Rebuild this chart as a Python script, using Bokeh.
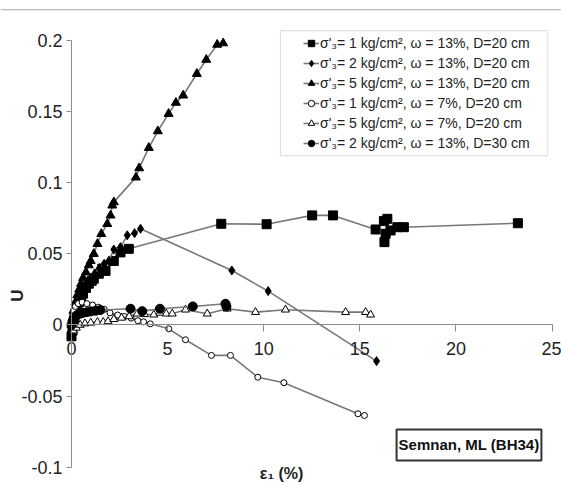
import math
from bokeh.plotting import figure
from bokeh.models import (Range1d, FixedTicker, Legend, LegendItem, Label, BoxAnnotation,
                          CustomJSTickFormatter, Span)
from bokeh.embed import file_html
from bokeh.resources import INLINE

# Axial strain eps1 (%) and U for each triaxial test
sq_x = [0.0, 0.05, 0.1, 0.15, 0.2, 0.3, 0.4, 0.5, 0.6, 0.75, 0.9, 1.05, 1.16, 1.42, 1.6, 1.77,
        2.2, 2.55, 2.98, 7.79, 10.15, 12.52, 13.6, 15.82, 16.25, 16.43, 16.34, 16.28, 16.6,
        16.95, 17.29, 23.22]
sq_y = [-0.008, -0.004, 0.0, 0.004, 0.008, 0.012, 0.016, 0.019, 0.022, 0.026, 0.029, 0.031,
        0.0325, 0.036, 0.0395, 0.038, 0.045, 0.051, 0.0535, 0.0711, 0.0708, 0.077, 0.077,
        0.0671, 0.073, 0.0746, 0.0641, 0.0582, 0.0664, 0.0687, 0.0687, 0.0715]

di_x = [0.0, 0.05, 0.1, 0.2, 0.3, 0.4, 0.5, 0.65, 0.8, 1.0, 1.2, 1.45, 1.7, 1.94, 2.2, 2.55,
        2.9, 3.28, 3.59, 8.34, 10.23, 15.87]
di_y = [0.0, 0.004, 0.008, 0.012, 0.016, 0.02, 0.023, 0.027, 0.03, 0.033, 0.036, 0.04, 0.043,
        0.045, 0.053, 0.0547, 0.063, 0.0645, 0.0676, 0.0383, 0.0238, -0.0254]

tr_x = [0.0, 0.05, 0.1, 0.2, 0.3, 0.4, 0.5, 0.6, 0.75, 0.9, 1.0, 1.16, 1.35, 1.55, 1.86, 2.03,
        2.12, 2.2, 3.35, 3.52, 4.02, 4.49, 5.05, 5.43, 5.81, 6.52, 7.01, 7.58, 7.89]
tr_y = [0.0, 0.005, 0.01, 0.016, 0.021, 0.025, 0.029, 0.033, 0.037, 0.042, 0.045, 0.05, 0.057,
        0.064, 0.071, 0.077, 0.084, 0.0863, 0.1037, 0.1102, 0.1245, 0.1362, 0.1484, 0.1562,
        0.1613, 0.1765, 0.1864, 0.197, 0.198]

oc_x = [0.0, 0.05, 0.1, 0.2, 0.35, 0.55, 0.8, 1.1, 1.4, 1.7, 2.0, 2.4, 2.75, 3.1, 3.45, 3.75,
        4.1, 5.06, 5.93, 7.28, 8.27, 9.69, 11.05, 14.9, 15.24]
oc_y = [0.0, 0.006, 0.01, 0.013, 0.015, 0.016, 0.015, 0.014, 0.0125, 0.011, 0.0085, 0.007,
        0.006, 0.0048, 0.003, 0.0022, 0.0008, -0.0027, -0.0104, -0.0214, -0.0214, -0.0367,
        -0.0406, -0.0624, -0.0636]

ot_x = [0.0, 0.1, 0.25, 0.45, 0.7, 1.0, 1.35, 1.65, 1.9, 2.2, 2.6, 3.0, 3.42, 3.8, 4.28, 4.6,
        4.93, 5.24, 5.93, 7.06, 8.1, 9.57, 11.13, 14.26, 15.3, 15.56]
ot_y = [0.0, -0.004, -0.002, 0.0, 0.001, 0.0015, 0.002, 0.002, 0.0025, 0.004, 0.005, 0.006,
        0.0079, 0.0075, 0.0072, 0.0085, 0.0079, 0.0079, 0.0107, 0.0079, 0.0114, 0.009, 0.0107,
        0.009, 0.009, 0.0072]

fc_x = [0.0, 0.05, 0.1, 0.2, 0.3, 0.45, 0.6, 0.8, 1.0, 1.25, 1.5, 3.07, 3.68, 4.6, 6.31, 8.01, 8.06]
fc_y = [0.0, 0.002, 0.004, 0.006, 0.007, 0.008, 0.0085, 0.009, 0.0095, 0.01, 0.0105, 0.0114,
        0.0097, 0.0114, 0.013, 0.0149, 0.013]

series_labels = [
    "σ'₃= 1 kg/cm², ω = 13%, D=20 cm",
    "σ'₃= 2 kg/cm², ω = 13%, D=20 cm",
    "σ'₃= 5 kg/cm², ω = 13%, D=20 cm",
    "σ'₃= 1 kg/cm², ω = 7%, D=20 cm",
    "σ'₃= 5 kg/cm², ω = 7%, D=20 cm",
    "σ'₃= 2 kg/cm², ω = 13%, D=30 cm",
]

x_ticks = [0, 5, 10, 15, 20, 25]
y_ticks = [-0.1, -0.05, 0.0, 0.05, 0.1, 0.15, 0.2]
y_tick_labels = ["-0.1", "-0.05", "0", "0.05", "0.1", "0.15", "0.2"]

FONT = "Liberation Sans"
LINE = "#777777"

# the frame fills the whole canvas; both axes sit on the zero lines
p = figure(width=561, height=482, output_backend="svg", toolbar_location=None,
           x_range=Range1d(-3.694, 25.49), y_range=Range1d(-0.1107, 0.228),
           min_border_left=0, min_border_right=0, min_border_top=0, min_border_bottom=0)
p.grid.visible = False
p.outline_line_color = None
p.background_fill_color = "white"
p.border_fill_color = "white"

# thin rule along the top of the chart area
p.add_layout(Span(location=0.2215, dimension="width", line_color="#a8a8a8", line_width=1.2))

# legend frame, drawn beneath the data
p.add_layout(BoxAnnotation(left=10.87, right=24.77, top=0.2069, bottom=0.119,
                           fill_color="white", fill_alpha=1.0,
                           line_color="#9a9a9a", line_width=1.2, level="underlay"))

styles = [
    (sq_x, sq_y, "square", 9, "black"),
    (di_x, di_y, "diamond", 9, "black"),
    (tr_x, tr_y, "triangle", 9, "black"),
    (oc_x, oc_y, "circle", 6, "white"),
    (ot_x, ot_y, "triangle", 8, "white"),
    (fc_x, fc_y, "circle", 9, "black"),
]

items = []
for (xs, ys, marker, size, fill), lab in zip(styles, series_labels):
    ln = p.line(xs, ys, line_color=LINE, line_width=1.6)
    sc = p.scatter(xs, ys, marker=marker, size=size, fill_color=fill,
                   line_color="black", line_width=1.0)
    items.append(LegendItem(label=lab, renderers=[ln, sc]))

legend = Legend(items=items, location=(300, 327), border_line_alpha=0,
                background_fill_alpha=0, padding=3, spacing=2, margin=0,
                label_height=18, glyph_height=18, glyph_width=16, label_standoff=1,
                label_text_font=FONT, label_text_font_size="14px",
                label_text_color="#222222")
p.add_layout(legend)

for ax in (p.xaxis[0], p.yaxis[0]):
    ax.axis_line_color = "#8c8c8c"
    ax.major_tick_line_color = "#8c8c8c"
    ax.minor_tick_line_color = None
    ax.major_tick_in = 0
    ax.major_label_text_font = FONT
    ax.major_label_text_font_size = "18px"
    ax.major_label_text_color = "#222222"

p.xaxis.fixed_location = 0
p.xaxis.bounds = (0, 25)
p.xaxis.ticker = FixedTicker(ticks=x_ticks)
p.xaxis.major_tick_out = 7
p.xaxis.major_label_standoff = 10

p.yaxis.fixed_location = 0
p.yaxis.bounds = (-0.1, 0.2)
p.yaxis.ticker = FixedTicker(ticks=y_ticks)
p.yaxis.formatter = CustomJSTickFormatter(
    args=dict(vals=y_ticks, labs=y_tick_labels),
    code="""
let best = 0;
for (let i = 0; i < vals.length; i++) {
    if (Math.abs(vals[i] - tick) < Math.abs(vals[best] - tick)) best = i;
}
return labs[best];
""")
p.yaxis.major_tick_out = 5
p.yaxis.major_label_standoff = 4

p.add_layout(Label(x=10.93, y=-0.1107, y_offset=1, text="ε₁ (%)", text_align="center",
                   text_baseline="bottom", text_font=FONT, text_font_size="16px",
                   text_font_style="bold", text_color="#222222"))
p.add_layout(Label(x=-2.81, y=0.0207, text="U", angle=math.pi / 2, text_align="center",
                   text_baseline="middle", text_font=FONT, text_font_size="17px",
                   text_font_style="bold", text_color="#222222"))
p.add_layout(Label(x=16.91, y=-0.0952, text="Semnan, ML (BH34)", text_align="left",
                   text_baseline="bottom", text_font=FONT, text_font_size="15px",
                   text_font_style="bold", text_color="#111111",
                   padding=dict(left=2, right=2, top=7, bottom=7),
                   border_line_color="#333333", border_line_width=2,
                   background_fill_color="white"))

open("out.html", "w").write(file_html(p, INLINE))
